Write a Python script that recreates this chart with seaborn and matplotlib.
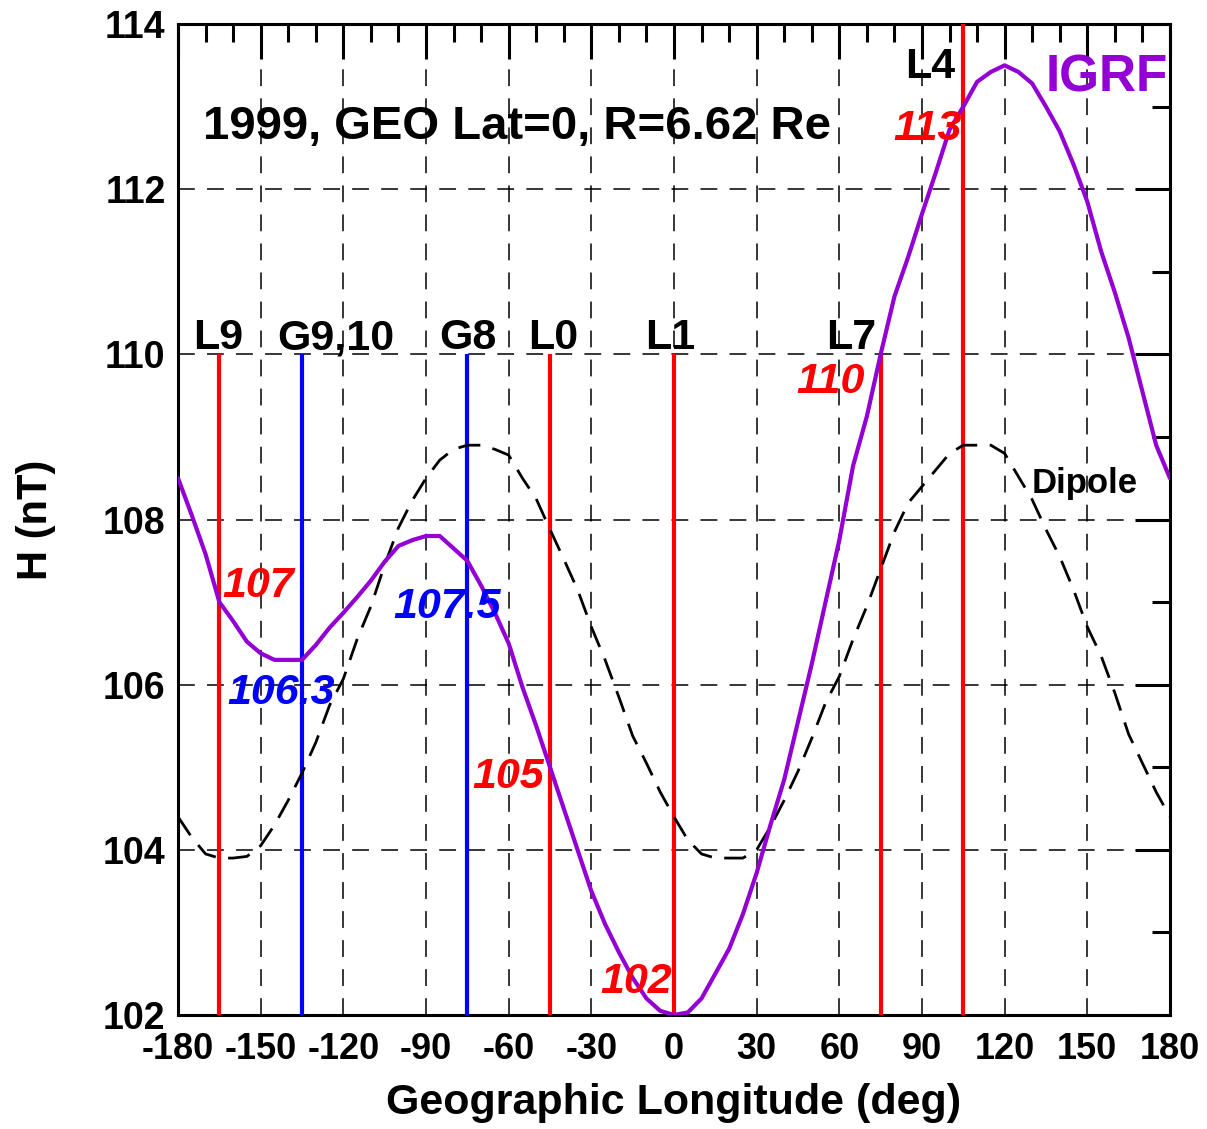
import numpy as np
import pandas as pd
import matplotlib
matplotlib.use("Agg")
import matplotlib.pyplot as plt
from matplotlib.ticker import MultipleLocator
import seaborn as sns

# Geographic longitude grid (deg)
longitude = [-180, -175, -170, -165, -160, -155, -150, -145, -140, -135,
             -130, -125, -120, -115, -110, -105, -100, -95, -90, -85,
             -80, -75, -70, -65, -60, -55, -50, -45, -40, -35,
             -30, -25, -20, -15, -10, -5, 0, 5, 10, 15,
             20, 25, 30, 35, 40, 45, 50, 55, 60, 65,
             70, 75, 80, 85, 90, 95, 100, 105, 110, 115,
             120, 125, 130, 135, 140, 145, 150, 155, 160, 165,
             170, 175, 180]

# IGRF horizontal field at GEO (nT)
igrf_h = [108.5, 108.05, 107.58, 107.0, 106.77, 106.52, 106.38, 106.3, 106.3, 106.3,
          106.48, 106.69, 106.87, 107.06, 107.26, 107.49, 107.68, 107.75, 107.8, 107.8,
          107.65, 107.5, 107.2, 106.87, 106.5, 105.97, 105.5, 105.0, 104.5, 104.0,
          103.5, 103.1, 102.76, 102.45, 102.2, 102.05, 102.0, 102.03, 102.2, 102.5,
          102.8, 103.22, 103.72, 104.3, 104.85, 105.55, 106.25, 107.0, 107.75, 108.65,
          109.25, 110.0, 110.7, 111.18, 111.7, 112.2, 112.72, 113.0, 113.3, 113.42,
          113.5, 113.42, 113.28, 113.0, 112.7, 112.3, 111.85, 111.25, 110.75, 110.2,
          109.55, 108.9, 108.5]

# Dipole horizontal field at GEO (nT)
dipole_h = [104.4, 104.15, 103.95, 103.9, 103.9, 103.92, 104.05, 104.3, 104.6, 104.93,
            105.3, 105.75, 106.07, 106.55, 106.95, 107.45, 107.9, 108.23, 108.5, 108.72,
            108.85, 108.9, 108.9, 108.85, 108.78, 108.5, 108.25, 107.88, 107.52, 107.15,
            106.7, 106.3, 105.85, 105.38, 105.05, 104.7, 104.4, 104.12, 103.95, 103.9,
            103.9, 103.9, 104.0, 104.28, 104.6, 104.95, 105.35, 105.78, 106.1, 106.55,
            106.95, 107.4, 107.85, 108.2, 108.4, 108.6, 108.8, 108.9, 108.9, 108.9,
            108.8, 108.52, 108.24, 107.88, 107.55, 107.15, 106.7, 106.35, 105.9, 105.4,
            105.05, 104.7, 104.4]

# Satellite positions and IGRF values there
sat_names = ["L9", "G9,10", "G8", "L0", "L1", "L7", "L4"]
sat_lon = [-165, -135, -75, -45, 0, 75, 105]
sat_value = [107.0, 106.3, 107.5, 105.0, 102.0, 110.0, 113.0]
sat_value_text = ["107", "106.3", "107.5", "105", "102", "110", "113"]
sat_kind = ["LANL", "GOES", "GOES", "LANL", "LANL", "LANL", "LANL"]

df = pd.DataFrame({"lon": longitude, "IGRF": igrf_h, "Dipole": dipole_h})

sns.set_theme(style="white")
plt.rcParams["font.family"] = ["Liberation Sans", "DejaVu Sans"]
plt.rcParams["font.weight"] = "bold"
plt.rcParams["axes.unicode_minus"] = False
for key in ["text.color", "axes.labelcolor", "xtick.color", "ytick.color",
            "axes.edgecolor"]:
    plt.rcParams[key] = "black"

PURPLE = "#9400D3"
kind_color = {"LANL": "#FF0000", "GOES": "#0000FF"}

fig = plt.figure(figsize=(12.07, 11.29), dpi=100)
ax = fig.add_axes([0.1475, 0.1010, 0.8218, 0.8777])

ymin, ymax = 102, 114
ax.set_xlim(-180, 180)
ax.set_ylim(ymin, ymax)

# dashed grid at major ticks
ax.set_axisbelow(True)
ax.grid(True, which="major", color="black", linestyle=(0, (11, 8)), linewidth=1.1)

# satellite marker lines
for name, lon, kind in zip(sat_names, sat_lon, sat_kind):
    top = ymax if name == "L4" else 110
    ax.vlines(lon, ymin, top, color=kind_color[kind], linewidth=3.0, zorder=3)

sns.lineplot(data=df, x="lon", y="Dipole", ax=ax, color="black",
             linewidth=2.0, linestyle=(0, (8, 4.5)), zorder=4)
sns.lineplot(data=df, x="lon", y="IGRF", ax=ax, color=PURPLE,
             linewidth=3.0, zorder=5)

# axes styling
ax.xaxis.set_major_locator(MultipleLocator(30))
ax.xaxis.set_minor_locator(MultipleLocator(10))
ax.yaxis.set_major_locator(MultipleLocator(2))
ax.yaxis.set_minor_locator(MultipleLocator(1))
ax.tick_params(which="both", direction="in", top=True, right=True,
               width=2.2, color="black", labelcolor="black")
ax.tick_params(which="major", length=25)
ax.tick_params(which="minor", length=13)
ax.tick_params(axis="x", which="major", labelsize=26, pad=12)
ax.tick_params(axis="y", which="major", labelsize=27, pad=9)
for lab in ax.get_xticklabels() + ax.get_yticklabels():
    lab.set_fontweight("bold")
for sp in ax.spines.values():
    sp.set_linewidth(2.2)
    sp.set_color("black")

ax.set_xlabel("Geographic Longitude (deg)", fontsize=31, fontweight="bold",
              labelpad=12, color="black")
ax.set_ylabel("H (nT)", fontsize=30, fontweight="bold", labelpad=34, color="black")

# annotations
ax.text(-171, 112.61, "1999, GEO Lat=0, R=6.62 Re", fontsize=34,
        fontweight="bold", ha="left", va="baseline", color="black")
ax.text(157.2, 113.18, "IGRF", fontsize=37, fontweight="bold",
        ha="center", va="baseline", color=PURPLE)
ax.text(148.9, 108.32, "Dipole", fontsize=25, fontweight="bold",
        ha="center", va="baseline", color="black")

name_pos = {"L9": (-165.4, 110.06), "G9,10": (-122.6, 110.06), "G8": (-74.7, 110.06),
            "L0": (-43.8, 110.06), "L1": (-1.4, 110.06), "L7": (64.3, 110.06),
            "L4": (93.0, 113.35)}
value_pos = {"L9": (-150.8, 107.06), "G9,10": (-142.5, 105.76), "G8": (-82.3, 106.81),
             "L0": (-60.2, 104.75), "L1": (-13.7, 102.27), "L7": (56.7, 109.53),
             "L4": (91.9, 112.6)}

for name, txt, kind in zip(sat_names, sat_value_text, sat_kind):
    nx, ny = name_pos[name]
    ax.text(nx, ny, name, fontsize=31, fontweight="bold", ha="center",
            va="baseline", color="black", zorder=6)
    vx, vy = value_pos[name]
    ax.text(vx, vy, txt, fontsize=31, fontweight="bold", fontstyle="italic",
            ha="center", va="baseline", color=kind_color[kind], zorder=6)

fig.savefig("out.png", dpi=100)
